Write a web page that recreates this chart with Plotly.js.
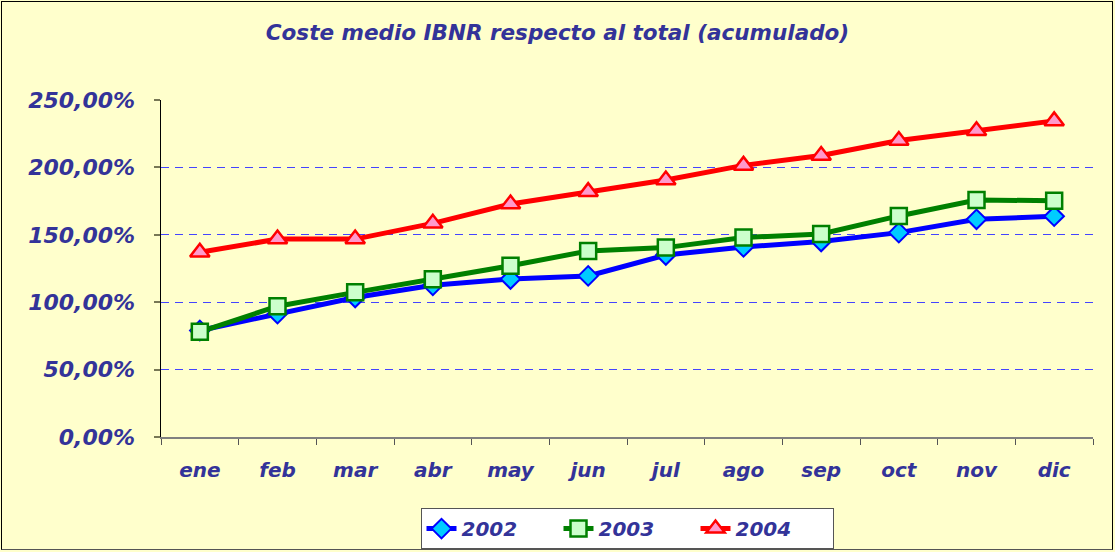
<!DOCTYPE html>
<html>
<head>
<meta charset="utf-8">
<script src="https://cdn.plot.ly/plotly-3.0.1.min.js"></script>
<style>
html,body{margin:0;padding:0;background:#FFFFCC;}
#wrap{position:relative;width:1115px;height:552px;}
#chart{width:1115px;height:552px;}
#frame{position:absolute;left:1px;top:1px;width:1110px;height:547px;border:1px solid #000;pointer-events:none;border-bottom-color:#555;}
</style>
</head>
<body>
<div id="wrap"><div id="chart"></div><div id="frame"></div></div>
<script>
const months = ['ene','feb','mar','abr','may','jun','jul','ago','sep','oct','nov','dic'];
const s2002 = [79, 91.5, 103.5, 112.5, 117.2, 119.5, 135, 141, 145, 151.6, 161.5, 163.8];
const s2003 = [78, 97, 107.3, 117, 127, 138, 140.5, 148, 150.6, 164, 175.8, 175.3];
const s2004 = [137, 146.8, 146.8, 158.5, 172.8, 182, 190.7, 201.5, 208.8, 220, 227.2, 234.5];
const yTicks = [0, 50, 100, 150, 200, 250];
const yTickText = ['0,00%', '50,00%', '100,00%', '150,00%', '200,00%', '250,00%'];

const fontFam = 'DejaVu Sans, Verdana, sans-serif';
const textCol = '#333399';

const traces = [
  {x: months, y: s2002, name: '<b><i>2002</i></b>', type: 'scatter', mode: 'lines+markers',
   line: {color: '#0000FF', width: 5},
   marker: {symbol: 'diamond', size: 15, color: '#00CCFF', line: {color: '#0000FF', width: 2}}},
  {x: months, y: s2003, name: '<b><i>2003</i></b>', type: 'scatter', mode: 'lines+markers',
   line: {color: '#008000', width: 5},
   marker: {symbol: 'square', size: 16, color: '#CCFFCC', line: {color: '#008000', width: 2.5}}},
  {x: months, y: s2004, name: '<b><i>2004</i></b>', type: 'scatter', mode: 'lines+markers',
   line: {color: '#FF0000', width: 5},
   marker: {symbol: 'triangle-up', size: 17, color: '#FF99CC', line: {color: '#FF0000', width: 2.5}}}
];

const layout = {
  width: 1115, height: 552,
  paper_bgcolor: '#FFFFCC', plot_bgcolor: '#FFFFCC',
  margin: {l: 161, r: 22, t: 100, b: 115, autoexpand: false},
  showlegend: true,
  title: {text: '<b><i>Coste medio IBNR respecto al total (acumulado)</i></b>',
          font: {family: fontFam, size: 21.5, color: textCol}, x: 0.5, xanchor: 'center', y: 0.942, yanchor: 'middle'},
  xaxis: {type: 'category', range: [-0.5, 11.5], showgrid: false, showline: true, linecolor: '#808080', linewidth: 2,
          ticks: 'outside', tickson: 'boundaries', ticklen: 6, tickcolor: '#555', tickwidth: 1,
          tickvals: months, ticktext: months.map(m => '<b><i>' + m + '</i></b>'),
          tickfont: {family: fontFam, size: 20, color: textCol}, ticklabelstandoff: 14,
          zeroline: false, fixedrange: true},
  yaxis: {range: [0, 250], tickvals: yTicks, ticktext: yTickText.map(t => '<b><i>' + t + '</i></b>'), showgrid: true,
          gridcolor: '#4444FF', griddash: '8px,6px', gridwidth: 1,
          showline: true, linecolor: '#000', linewidth: 1.5, zeroline: false,
          ticks: 'outside', ticklen: 6, tickcolor: '#777755', tickwidth: 2,
          tickfont: {family: fontFam, size: 22, color: textCol}, ticklabelstandoff: 14, fixedrange: true},
  legend: {orientation: 'h', x: 0.5, xanchor: 'center', y: -0.211, yanchor: 'top',
           bgcolor: '#FFFFFF', bordercolor: '#555', borderwidth: 1,
           entrywidth: 92, entrywidthmode: 'pixels',
           font: {family: fontFam, size: 20, color: textCol}, tracegroupgap: 0}
};

Plotly.newPlot('chart', traces, layout, {displayModeBar: false, staticPlot: true});
</script>
</body>
</html>
